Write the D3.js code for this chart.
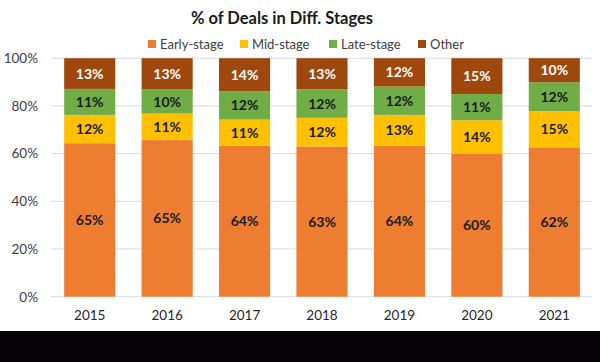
<!DOCTYPE html>
<html>
<head>
<meta charset="utf-8">
<script src="https://cdn.jsdelivr.net/npm/d3@7"></script>
<style>
  body { margin: 0; background: #fff; }
  svg { display: block; font-family: Lato, "Open Sans", sans-serif; }
</style>
</head>
<body>
<div id="chart"></div>
<script>
"use strict";

// values (percent labels as printed)
var years = ["2015", "2016", "2017", "2018", "2019", "2020", "2021"];
var stages = ["Early-stage", "Mid-stage", "Late-stage", "Other"];
var early = [65, 65, 64, 63, 64, 60, 62];
var mid = [12, 11, 11, 12, 13, 14, 15];
var late = [11, 10, 12, 12, 12, 11, 12];
var other = [13, 13, 14, 13, 12, 15, 10];
var yTicks = [0, 0.2, 0.4, 0.6, 0.8, 1];

var colors = ["#ED7D31", "#FFC000", "#70AD47", "#9E480E"];
var labelColors = ["#1a1a1a", "#1a1a1a", "#1a1a1a", "#ffffff"];

var width = 600, height = 362;

var svg = d3.select("#chart").append("svg")
  .attr("width", width)
  .attr("height", height);

// rows for d3.stack
var rows = years.map(function (y, i) {
  return { year: y, "Early-stage": early[i], "Mid-stage": mid[i], "Late-stage": late[i], "Other": other[i] };
});

var series = d3.stack()
  .keys(stages)
  .offset(d3.stackOffsetExpand)(rows);

var x = d3.scaleBand()
  .domain(years)
  .range([51, 593])
  .paddingInner(0.34)
  .paddingOuter(0.17);

var y = d3.scaleLinear()
  .domain([0, 1])
  .range([296.7, 58.2]);

// gridlines
svg.append("g")
  .selectAll("line")
  .data(yTicks)
  .enter().append("line")
  .attr("x1", 51)
  .attr("x2", 592)
  .attr("y1", function (d) { return y(d); })
  .attr("y2", function (d) { return y(d); })
  .attr("stroke", "#d9d9d9")
  .attr("stroke-width", 1);

// y axis labels
var yAxis = d3.axisLeft(y)
  .tickValues(yTicks)
  .tickFormat(d3.format(".0%"))
  .tickSize(0)
  .tickPadding(0);

svg.append("g")
  .attr("transform", "translate(38,0)")
  .call(yAxis)
  .call(function (g) { g.select(".domain").remove(); })
  .selectAll("text")
  .attr("font-family", "Lato, sans-serif")
  .attr("font-size", 13.5)
  .attr("fill", "#404040");

// bars
var layer = svg.append("g")
  .selectAll("g")
  .data(series)
  .enter().append("g")
  .attr("fill", function (d, i) { return colors[i]; });

layer.selectAll("rect")
  .data(function (d) { return d; })
  .enter().append("rect")
  .attr("x", function (d) { return x(d.data.year); })
  .attr("width", x.bandwidth())
  .attr("y", function (d) { return y(d[1]); })
  .attr("height", function (d) { return y(d[0]) - y(d[1]); });

// value labels
series.forEach(function (s, si) {
  svg.append("g")
    .selectAll("text")
    .data(s)
    .enter().append("text")
    .attr("x", function (d) { return x(d.data.year) + x.bandwidth() / 2; })
    .attr("y", function (d) { return (y(d[0]) + y(d[1])) / 2; })
    .attr("dy", "0.36em")
    .attr("text-anchor", "middle")
    .attr("font-size", 14)
    .attr("font-weight", "bold")
    .attr("fill", labelColors[si])
    .text(function (d) { return d.data[s.key] + "%"; });
});

// x axis labels
var xAxis = d3.axisBottom(x).tickSize(0).tickPadding(0);
svg.append("g")
  .attr("transform", "translate(0,310)")
  .call(xAxis)
  .call(function (g) { g.select(".domain").remove(); })
  .selectAll("text")
  .attr("font-family", "Lato, sans-serif")
  .attr("font-size", 13.5)
  .attr("fill", "#262626");

// title
svg.append("text")
  .attr("x", 282)
  .attr("y", 24)
  .attr("text-anchor", "middle")
  .attr("font-size", 16.5)
  .attr("font-weight", "bold")
  .attr("fill", "#1a1a1a")
  .text("% of Deals in Diff. Stages");

// legend
var legendX = [148, 240, 329, 418];
var legend = svg.append("g")
  .selectAll("g")
  .data(stages)
  .enter().append("g")
  .attr("transform", function (d, i) { return "translate(" + legendX[i] + ",44)"; });

legend.append("rect")
  .attr("x", 0)
  .attr("y", -4)
  .attr("width", 8)
  .attr("height", 8)
  .attr("fill", function (d, i) { return colors[i]; });

legend.append("text")
  .attr("x", 12)
  .attr("dy", "0.36em")
  .attr("font-size", 13)
  .attr("fill", "#404040")
  .text(function (d) { return d; });

// black strip at the bottom of the picture
svg.append("rect")
  .attr("x", 0)
  .attr("y", 331)
  .attr("width", width)
  .attr("height", height - 331)
  .attr("fill", "#050308");
</script>
</body>
</html>
